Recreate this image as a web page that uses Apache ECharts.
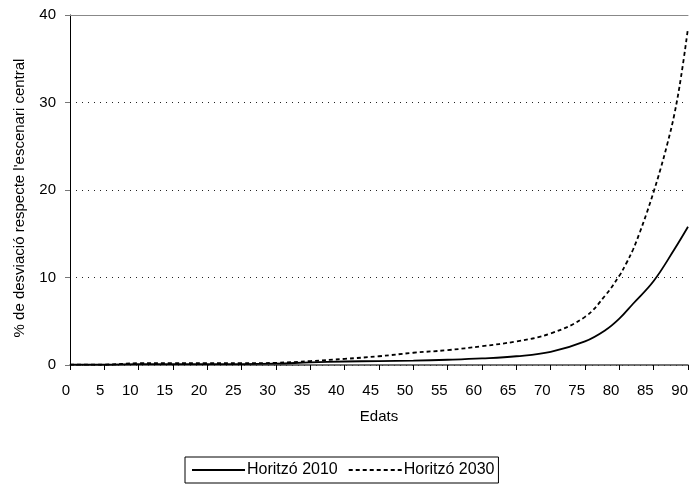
<!DOCTYPE html>
<html>
<head>
<meta charset="utf-8">
<script src="https://cdn.jsdelivr.net/npm/echarts@6/dist/echarts.min.js"></script>
<style>
html,body{margin:0;padding:0;background:#fff;}
#chart{width:691px;height:487px;}
</style>
</head>
<body>
<div id="chart"></div>
<script>
// Ages and values
const ages2010 = [0, 5, 10, 15, 20, 25, 30, 35, 40, 45, 50, 55, 60, 65, 70, 75, 78, 80, 82, 85, 88, 90];
const vals2010 = [0.05, 0.05, 0.1, 0.1, 0.1, 0.1, 0.15, 0.3, 0.4, 0.45, 0.5, 0.6, 0.75, 1.0, 1.5, 2.7, 4.0, 5.3, 7.0, 9.6, 13.2, 15.8];
const ages2030 = [0, 5, 10, 15, 20, 25, 30, 35, 40, 45, 50, 55, 60, 65, 70, 75, 78, 80, 81, 82, 83, 84, 85, 86, 87, 88, 89, 90];
const vals2030 = [0.05, 0.05, 0.2, 0.2, 0.2, 0.2, 0.25, 0.45, 0.7, 1.0, 1.4, 1.7, 2.15, 2.7, 3.6, 5.5, 8.0, 10.2, 11.6, 13.2, 15.2, 17.4, 19.8, 22.4, 25.3, 28.6, 33.0, 38.5];
const seriesNames = ['Horitzó 2010', 'Horitzó 2030'];
const xTitle = 'Edats';
const yTitle = "% de desviació respecte l'escenari central";

const pairs = (xs, ys) => xs.map((x, i) => [x, ys[i]]);
const FONT = 'Liberation Sans, Arial, sans-serif';

const chart = echarts.init(document.getElementById('chart'), null, {renderer: 'canvas'});
chart.setOption({
  animation: false,
  backgroundColor: '#fff',
  textStyle: {fontFamily: FONT},
  grid: {left: 70, right: 3, top: 15, bottom: 122, containLabel: false},
  xAxis: [{
    type: 'value', min: 0, max: 90, interval: 5,
    name: xTitle, nameLocation: 'middle', nameGap: 44,
    nameTextStyle: {color: '#000', fontSize: 15, fontFamily: FONT},
    axisLine: {show: true, lineStyle: {color: '#444', width: 1.5}},
    axisTick: {show: true, length: 5, lineStyle: {color: '#000'}},
    axisLabel: {color: '#000', fontSize: 15, fontFamily: FONT, margin: 18, align: 'right'},
    splitLine: {show: false}
  }, {
    type: 'value', min: 0, max: 90, position: 'top',
    axisLine: {show: true, onZero: false, lineStyle: {color: '#888', width: 1}},
    axisTick: {show: false}, axisLabel: {show: false}, splitLine: {show: false}
  }],
  yAxis: {
    type: 'value', min: 0, max: 40, interval: 10,
    name: yTitle, nameLocation: 'middle', nameGap: 43, nameRotate: 90,
    nameTextStyle: {color: '#000', fontSize: 15, fontFamily: FONT, padding: [0, 16, 0, 0]},
    axisLine: {show: true, lineStyle: {color: '#000', width: 1}},
    axisTick: {show: true, length: 5, lineStyle: {color: '#777'}},
    axisLabel: {color: '#000', fontSize: 15, fontFamily: FONT, margin: 14},
    splitLine: {show: true, lineStyle: {color: '#222', width: 1, type: [1, 5]}}
  },
  legend: {
    left: 185, top: 457,
    data: seriesNames,
    itemWidth: 53, itemHeight: 14, itemGap: 10,
    borderColor: '#000', borderWidth: 1, borderRadius: 0,
    padding: [5, 4, 5, 6],
    itemStyle: {opacity: 0},
    textStyle: {color: '#000', fontSize: 16, fontFamily: FONT, padding: [0, 0, 0, -3]}
  },
  series: [{
    name: seriesNames[0], type: 'line', smooth: 0.4, symbol: 'none',
    data: pairs(ages2010, vals2010),
    lineStyle: {color: '#000', width: 1.8, type: 'solid'},
    itemStyle: {color: '#000'}, z: 3
  }, {
    name: seriesNames[1], type: 'line', smooth: 0.4, symbol: 'none',
    data: pairs(ages2030, vals2030),
    lineStyle: {color: '#000', width: 1.8, type: [4, 3]},
    itemStyle: {color: '#000'}, z: 3
  }]
});
</script>
</body>
</html>
